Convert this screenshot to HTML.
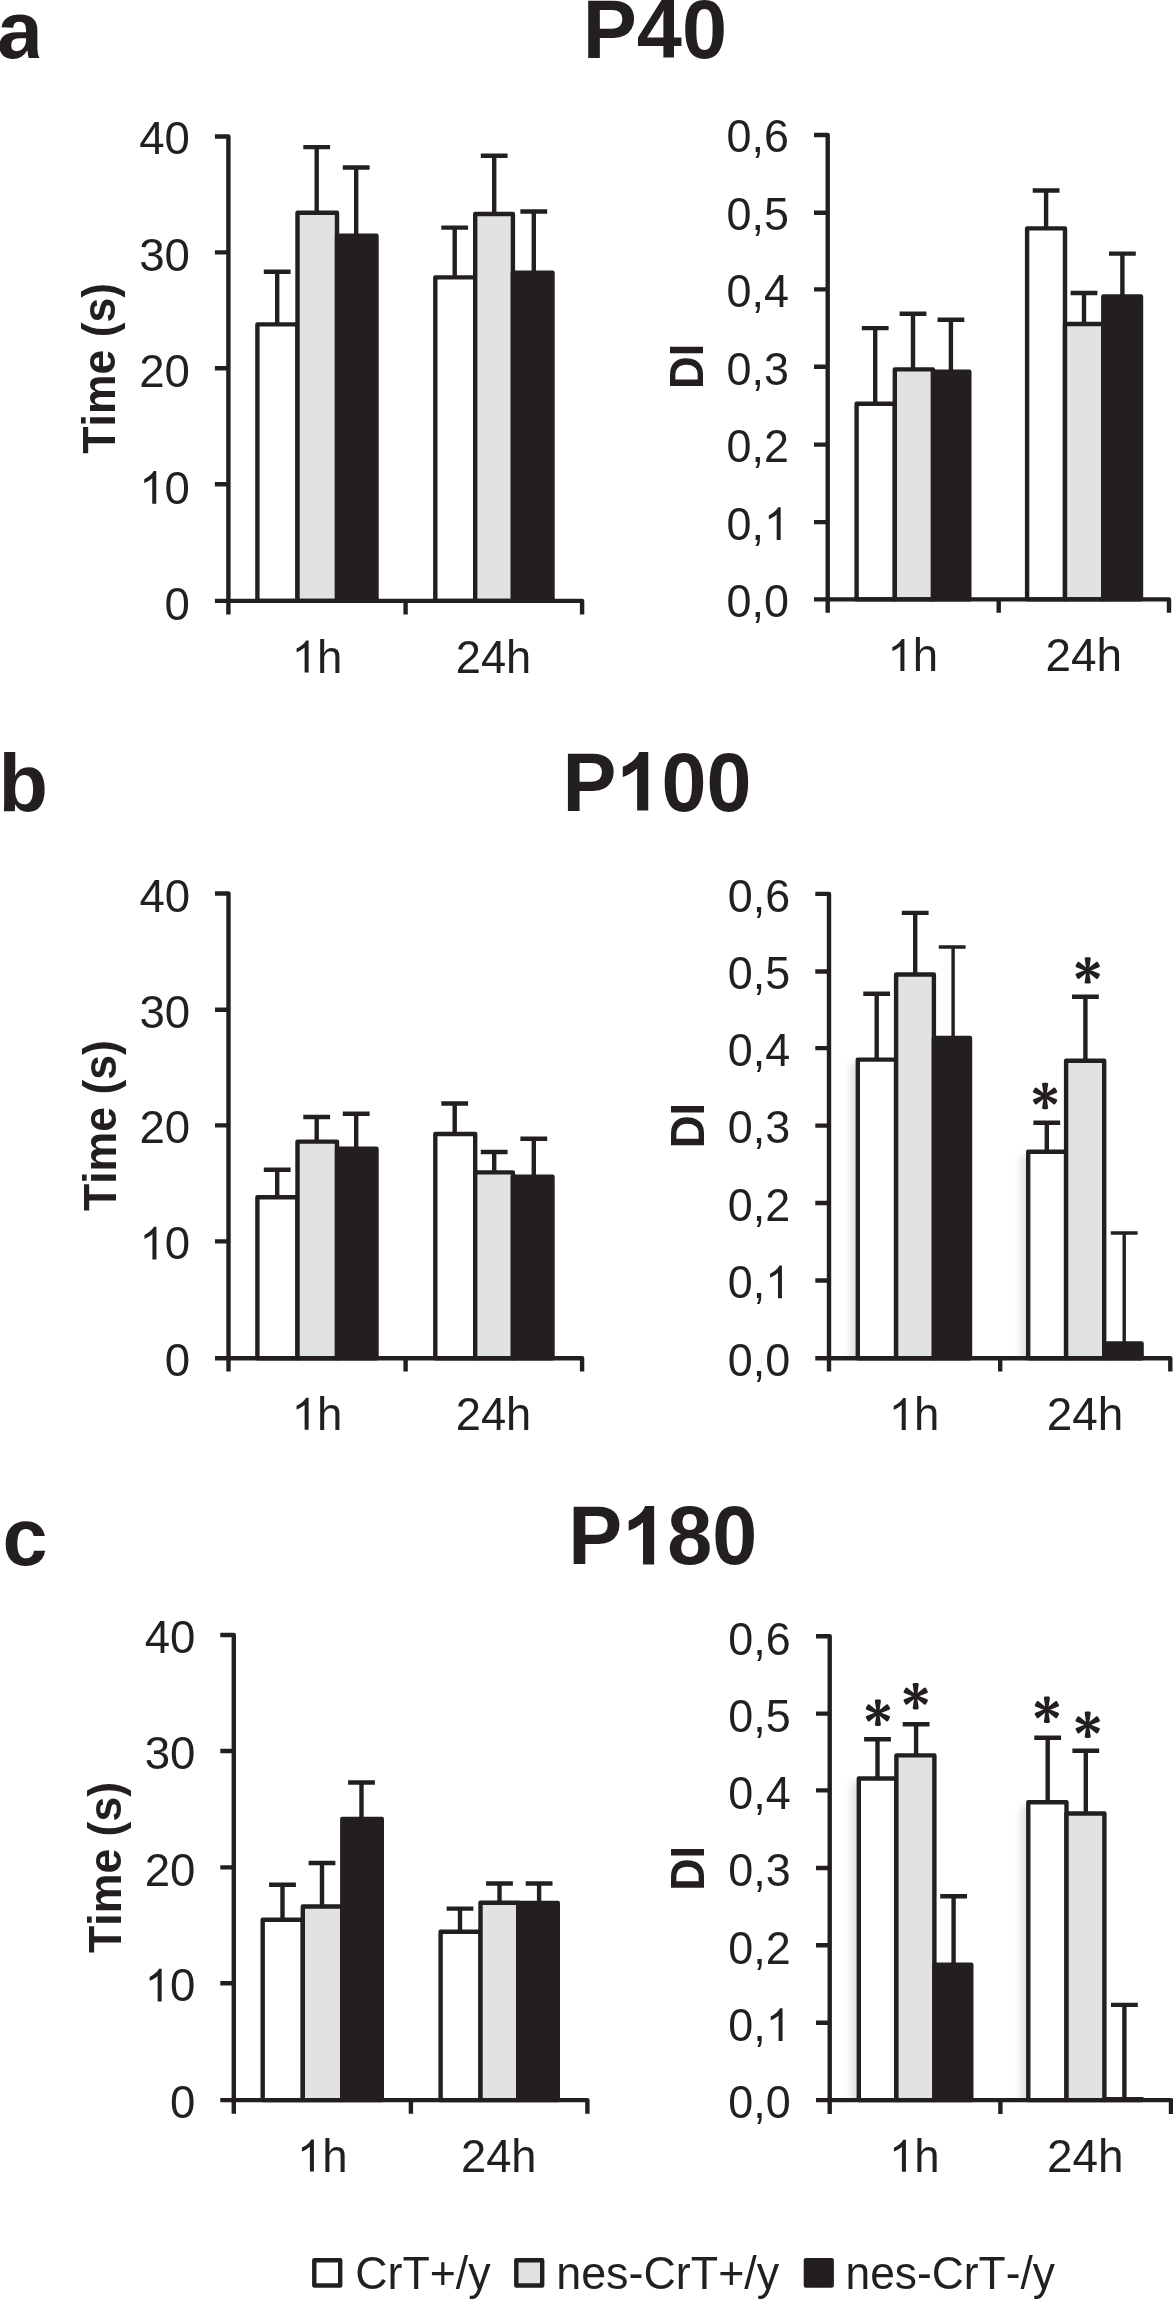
<!DOCTYPE html>
<html><head><meta charset="utf-8"><title>Figure</title>
<style>html,body{margin:0;padding:0;background:#fff}body{width:1173px;height:2300px;overflow:hidden}svg{display:block;will-change:transform;font-family:"Liberation Sans",sans-serif;font-kerning:none}</style>
</head><body>
<svg width="1173" height="2300" viewBox="0 0 1173 2300">
<defs><filter id="bl" x="-100%" y="-5%" width="300%" height="110%"><feGaussianBlur stdDeviation="3.5"/></filter><clipPath id="c1358"><rect x="0" y="0" width="1173" height="1358"/></clipPath><clipPath id="c2100"><rect x="0" y="0" width="1173" height="2100"/></clipPath><g id="ast"><path d="M-1.35 0L-3.00 -11.80Q-3.00 -13.20 -1.60 -13.20L1.60 -13.20Q3.00 -13.20 3.00 -11.80L1.35 0Z" transform="rotate(0)"/><path d="M-1.35 0L-3.00 -11.50Q-3.00 -12.90 -1.60 -12.90L1.60 -12.90Q3.00 -12.90 3.00 -11.50L1.35 0Z" transform="rotate(60)"/><path d="M-1.35 0L-3.00 -11.50Q-3.00 -12.90 -1.60 -12.90L1.60 -12.90Q3.00 -12.90 3.00 -11.50L1.35 0Z" transform="rotate(120)"/><path d="M-1.35 0L-3.00 -11.80Q-3.00 -13.20 -1.60 -13.20L1.60 -13.20Q3.00 -13.20 3.00 -11.80L1.35 0Z" transform="rotate(180)"/><path d="M-1.35 0L-3.00 -11.50Q-3.00 -12.90 -1.60 -12.90L1.60 -12.90Q3.00 -12.90 3.00 -11.50L1.35 0Z" transform="rotate(240)"/><path d="M-1.35 0L-3.00 -11.50Q-3.00 -12.90 -1.60 -12.90L1.60 -12.90Q3.00 -12.90 3.00 -11.50L1.35 0Z" transform="rotate(300)"/><circle r="2.2"/></g><path id="one" d="M763 0H583V1118.83Q518 1058.36 412.5 997.88Q307 937.4 223 907.16V1076.89Q374 1146.15 487 1244.67Q600 1343.19 647 1435.85H763Z"/><path id="oneb" d="M806 0H525V1032.99Q371 892.53 162 825.23V1073.96Q272 1109.08 401 1207.11Q530 1305.14 578 1435.85H806Z"/></defs>
<g stroke="#231f20" fill="none">
<rect x="257.4" y="324.4" width="40.1" height="276.5" fill="#fff" stroke-width="4.4" stroke-linejoin="round"/>
<rect x="297.5" y="212.7" width="39.5" height="388.2" fill="#e1e2e3" stroke-width="4.4" stroke-linejoin="round"/>
<rect x="337" y="235.8" width="39.5" height="365.1" fill="#231f20" stroke-width="4.4" stroke-linejoin="round"/>
<rect x="435.3" y="277.4" width="39.9" height="323.5" fill="#fff" stroke-width="4.4" stroke-linejoin="round"/>
<rect x="475.2" y="214" width="37.7" height="386.9" fill="#e1e2e3" stroke-width="4.4" stroke-linejoin="round"/>
<rect x="512.9" y="272.6" width="39.6" height="328.3" fill="#231f20" stroke-width="4.4" stroke-linejoin="round"/>
<path d="M277.2 324.4V271.7M263.8 271.7H290.6" stroke-width="4.4"/>
<path d="M316.7 212.7V147.1M303.3 147.1H330.1" stroke-width="4.4"/>
<path d="M356.2 235.8V167.5M342.8 167.5H369.6" stroke-width="4.4"/>
<path d="M454.7 277.4V227.6M441.3 227.6H468.1" stroke-width="4.4"/>
<path d="M494.2 214V155.8M480.8 155.8H507.6" stroke-width="4.4"/>
<path d="M533.8 272.6V211.5M520.4 211.5H547.2" stroke-width="4.4"/>
<path d="M214.9 136.5H228.4V614.4" stroke-width="4.4" stroke-linejoin="round"/>
<path d="M214.9 252.4H228.4M214.9 368.2H228.4M214.9 484.3H228.4M214.9 600.9H582.1V614.4M405.6 600.9V614.4" stroke-width="4.4" stroke-linejoin="round"/>
<rect x="856.6" y="403.7" width="38.2" height="195.7" fill="#fff" stroke-width="4.4" stroke-linejoin="round"/>
<rect x="894.8" y="369.4" width="38.2" height="230" fill="#e1e2e3" stroke-width="4.4" stroke-linejoin="round"/>
<rect x="933" y="371.8" width="36.3" height="227.6" fill="#231f20" stroke-width="4.4" stroke-linejoin="round"/>
<rect x="1027.1" y="228.4" width="37.9" height="371" fill="#fff" stroke-width="4.4" stroke-linejoin="round"/>
<rect x="1065" y="324" width="38.3" height="275.4" fill="#e1e2e3" stroke-width="4.4" stroke-linejoin="round"/>
<rect x="1103.3" y="296.4" width="37.7" height="303" fill="#231f20" stroke-width="4.4" stroke-linejoin="round"/>
<path d="M875.2 403.7V328.1M861.8 328.1H888.6" stroke-width="4.4"/>
<path d="M913 369.4V313.8M899.6 313.8H926.4" stroke-width="4.4"/>
<path d="M950.9 371.8V319.7M937.5 319.7H964.3" stroke-width="4.4"/>
<path d="M1046.1 228.4V190.5M1032.7 190.5H1059.5" stroke-width="4.4"/>
<path d="M1084 324V293M1070.6 293H1097.4" stroke-width="4.4"/>
<path d="M1122.4 296.4V253.6M1109 253.6H1135.8" stroke-width="4.4"/>
<path d="M814 135H827.7V612.8" stroke-width="4.4" stroke-linejoin="round"/>
<path d="M814 212.7H827.7M814 289.4H827.7M814 366.8H827.7M814 444.6H827.7M814 522.1H827.7M814 599.4H1169V612.8M998.7 599.4V612.8" stroke-width="4.4" stroke-linejoin="round"/>
<rect x="257.4" y="1197.3" width="40.1" height="160.9" fill="#fff" stroke-width="4.4" stroke-linejoin="round"/>
<rect x="297.5" y="1141.6" width="39.5" height="216.6" fill="#e1e2e3" stroke-width="4.4" stroke-linejoin="round"/>
<rect x="337" y="1148.7" width="39.5" height="209.5" fill="#231f20" stroke-width="4.4" stroke-linejoin="round"/>
<rect x="435.3" y="1134" width="39.9" height="224.2" fill="#fff" stroke-width="4.4" stroke-linejoin="round"/>
<rect x="475.2" y="1172.4" width="37.7" height="185.8" fill="#e1e2e3" stroke-width="4.4" stroke-linejoin="round"/>
<rect x="512.9" y="1176.8" width="39.6" height="181.4" fill="#231f20" stroke-width="4.4" stroke-linejoin="round"/>
<path d="M277.2 1197.3V1169.7M263.8 1169.7H290.6" stroke-width="4.4"/>
<path d="M316.7 1141.6V1117M303.3 1117H330.1" stroke-width="4.4"/>
<path d="M356.2 1148.7V1113.8M342.8 1113.8H369.6" stroke-width="4.4"/>
<path d="M454.7 1134V1103.5M441.3 1103.5H468.1" stroke-width="4.4"/>
<path d="M494.2 1172.4V1152M480.8 1152H507.6" stroke-width="4.4"/>
<path d="M533.8 1176.8V1138.7M520.4 1138.7H547.2" stroke-width="4.4"/>
<path d="M215 893.5H228.5V1371.6" stroke-width="4.4" stroke-linejoin="round"/>
<path d="M215 1009.8H228.5M215 1125.4H228.5M215 1241.4H228.5M215 1358.2H582.1V1371.6M405.6 1358.2V1371.6" stroke-width="4.4" stroke-linejoin="round"/>
<g clip-path="url(#c1358)"><rect x="851.1" y="1063.4" width="14" height="310.9" fill="#1c2026" fill-opacity="0.15" stroke="none" filter="url(#bl)"/></g>
<g clip-path="url(#c1358)"><rect x="1021.5" y="1155.5" width="14" height="218.8" fill="#1c2026" fill-opacity="0.15" stroke="none" filter="url(#bl)"/></g>
<rect x="857.8" y="1059.6" width="38.3" height="298.7" fill="#fff" stroke-width="4.4" stroke-linejoin="round"/>
<rect x="896.1" y="974.5" width="37.8" height="383.8" fill="#e1e2e3" stroke-width="4.4" stroke-linejoin="round"/>
<rect x="933.9" y="1038" width="36.1" height="320.3" fill="#231f20" stroke-width="4.4" stroke-linejoin="round"/>
<rect x="1028.2" y="1151.7" width="37.9" height="206.6" fill="#fff" stroke-width="4.4" stroke-linejoin="round"/>
<rect x="1066.1" y="1060.8" width="38.1" height="297.5" fill="#e1e2e3" stroke-width="4.4" stroke-linejoin="round"/>
<rect x="1104.2" y="1343.4" width="37.4" height="14.9" fill="#231f20" stroke-width="4.4" stroke-linejoin="round"/>
<path d="M876.7 1059.6V993.8M863.3 993.8H890.1" stroke-width="4.4"/>
<path d="M915.2 974.5V912.9M901.8 912.9H928.6" stroke-width="4.4"/>
<path d="M953.1 1038V947M938.8 947H965.6" stroke-width="3.4"/>
<path d="M1046.8 1151.7V1122.7M1033.4 1122.7H1060.2" stroke-width="4.4"/>
<path d="M1085.4 1060.8V996.7M1072 996.7H1098.8" stroke-width="4.4"/>
<path d="M1124.2 1343.4V1233M1110.8 1233H1137.6" stroke-width="3.4"/>
<path d="M815.3 893.9H829V1371.6" stroke-width="4.4" stroke-linejoin="round"/>
<path d="M815.3 971.5H829M815.3 1048.1H829M815.3 1125.6H829M815.3 1203H829M815.3 1280.5H829M815.3 1358.3H1170.3V1371.6M1000.2 1358.3V1371.6" stroke-width="4.4" stroke-linejoin="round"/>
<rect x="262.7" y="1919.8" width="40.1" height="180.3" fill="#fff" stroke-width="4.4" stroke-linejoin="round"/>
<rect x="302.8" y="1906.5" width="39.5" height="193.6" fill="#e1e2e3" stroke-width="4.4" stroke-linejoin="round"/>
<rect x="342.3" y="1819" width="39.5" height="281.1" fill="#231f20" stroke-width="4.4" stroke-linejoin="round"/>
<rect x="440.6" y="1931.8" width="39.9" height="168.3" fill="#fff" stroke-width="4.4" stroke-linejoin="round"/>
<rect x="480.5" y="1902.7" width="37.7" height="197.4" fill="#e1e2e3" stroke-width="4.4" stroke-linejoin="round"/>
<rect x="518.2" y="1902.9" width="39.6" height="197.2" fill="#231f20" stroke-width="4.4" stroke-linejoin="round"/>
<path d="M282.5 1919.8V1884.8M269.1 1884.8H295.9" stroke-width="4.4"/>
<path d="M322 1906.5V1863M308.6 1863H335.4" stroke-width="4.4"/>
<path d="M361.5 1819V1782.5M348.1 1782.5H374.9" stroke-width="4.4"/>
<path d="M460 1931.8V1908.6M446.6 1908.6H473.4" stroke-width="4.4"/>
<path d="M499.5 1902.7V1883.5M486.1 1883.5H512.9" stroke-width="4.4"/>
<path d="M539.1 1902.9V1883.5M525.7 1883.5H552.5" stroke-width="4.4"/>
<path d="M220.3 1635H233.8V2113.8" stroke-width="4.4" stroke-linejoin="round"/>
<path d="M220.3 1751H233.8M220.3 1867.4H233.8M220.3 1983.3H233.8M220.3 2100.1H587.4V2113.8M410.9 2100.1V2113.8" stroke-width="4.4" stroke-linejoin="round"/>
<g clip-path="url(#c2100)"><rect x="852.1" y="1782.3" width="14" height="333.8" fill="#1c2026" fill-opacity="0.15" stroke="none" filter="url(#bl)"/></g>
<g clip-path="url(#c2100)"><rect x="1021.6" y="1806" width="14" height="310.1" fill="#1c2026" fill-opacity="0.15" stroke="none" filter="url(#bl)"/></g>
<rect x="858.8" y="1778.5" width="37.6" height="321.6" fill="#fff" stroke-width="4.4" stroke-linejoin="round"/>
<rect x="896.4" y="1755.4" width="38" height="344.7" fill="#e1e2e3" stroke-width="4.4" stroke-linejoin="round"/>
<rect x="934.4" y="1964.8" width="36.9" height="135.3" fill="#231f20" stroke-width="4.4" stroke-linejoin="round"/>
<rect x="1028.3" y="1802.2" width="38.2" height="297.9" fill="#fff" stroke-width="4.4" stroke-linejoin="round"/>
<rect x="1066.5" y="1813.5" width="37.9" height="286.6" fill="#e1e2e3" stroke-width="4.4" stroke-linejoin="round"/>
<rect x="1104.4" y="2099.3" width="37.7" height="0.8" fill="#231f20" stroke-width="4.4" stroke-linejoin="round"/>
<path d="M877.5 1778.5V1739.2M864.1 1739.2H890.9" stroke-width="4.4"/>
<path d="M916.1 1755.4V1724.3M902.7 1724.3H929.5" stroke-width="4.4"/>
<path d="M953.6 1964.8V1896.2M940.2 1896.2H967" stroke-width="4.4"/>
<path d="M1047.7 1802.2V1737.7M1034.3 1737.7H1061.1" stroke-width="4.4"/>
<path d="M1085.8 1813.5V1750.8M1072.4 1750.8H1099.2" stroke-width="4.4"/>
<path d="M1124.4 2099.3V2004.9M1111 2004.9H1137.8" stroke-width="4.4"/>
<path d="M816 1636.3H829.7V2113.9" stroke-width="4.4" stroke-linejoin="round"/>
<path d="M816 1713.6H829.7M816 1790.4H829.7M816 1868H829.7M816 1945.3H829.7M816 2022.7H829.7M816 2100.1H1171V2113.9M1000.4 2100.1V2113.9" stroke-width="4.4" stroke-linejoin="round"/>
<rect x="314.3" y="2260.2" width="25.9" height="25.3" fill="#fff" stroke-width="4.4" stroke-linejoin="round"/>
<rect x="516.3" y="2260.2" width="25.9" height="25.3" fill="#e1e2e3" stroke-width="4.4" stroke-linejoin="round"/>
<rect x="805.9" y="2260.2" width="25.8" height="25.3" fill="#231f20" stroke-width="4.4" stroke-linejoin="round"/>
</g>
<g fill="#231f20">
<use href="#ast" x="1045.1" y="1096"/>
<use href="#ast" x="1087.7" y="970.4"/>
<use href="#ast" x="877.9" y="1712.8"/>
<use href="#ast" x="915.7" y="1696.2"/>
<use href="#ast" x="1046.9" y="1709.7"/>
<use href="#ast" x="1087.7" y="1724.8"/>
</g>
<g fill="#231f20">
<path transform="translate(-3 58.1) scale(0.04034 -0.03955)" d="M393 -20Q236 -20 148 65.5Q60 151 60 306Q60 474 169.5 562Q279 650 487 652L720 656V711Q720 817 683 868.5Q646 920 562 920Q484 920 447.5 884.5Q411 849 402 767L109 781Q136 939 253.5 1020.5Q371 1102 574 1102Q779 1102 890 1001Q1001 900 1001 714V230Q1003 90 1052 0H790Q762 70 755 193H749Q631 -20 393 -20ZM720 501 576 499Q478 495 437 477.5Q396 460 374.5 424Q353 388 353 328Q353 251 388.5 213.5Q424 176 483 176Q549 176 603.5 212Q658 248 689 311.5Q720 375 720 446Z"/>
<g transform="translate(-1.54 811)" font-size="81" font-weight="bold"><text>b</text></g>
<g transform="translate(2.44 1564.8)" font-size="81" font-weight="bold"><text>c</text></g>
<g transform="translate(582.77 58) scale(1.0016 1.0300)" font-size="81" font-weight="bold"><text>P40</text></g>
<g transform="translate(562.39 810.6) scale(0.9993 1.0300)" font-size="81" font-weight="bold"><text>P</text><use href="#oneb" transform="translate(54.03 0) scale(0.03955 -0.03955)"/><text x="99.07">00</text></g>
<g transform="translate(568.29 1564.4) scale(0.9993 1.0300)" font-size="81" font-weight="bold"><text>P</text><use href="#oneb" transform="translate(54.03 0) scale(0.03955 -0.03955)"/><text x="99.07">80</text></g>
<g transform="translate(139.26 154.2) scale(1.0000 1.0220)" font-size="45.6"><text>40</text></g>
<g transform="translate(139.26 270.7) scale(1.0000 1.0220)" font-size="45.6"><text>30</text></g>
<g transform="translate(139.26 387.2) scale(1.0000 1.0220)" font-size="45.6"><text>20</text></g>
<g transform="translate(139.26 503.7) scale(1.0000 1.0220)" font-size="45.6"><use href="#one" transform="translate(0 0) scale(0.02227 -0.02227)"/><text x="25.36">0</text></g>
<g transform="translate(164.62 620.2) scale(1.0000 1.0220)" font-size="45.6"><text>0</text></g>
<g transform="translate(139.46 911.5) scale(1.0000 1.0220)" font-size="45.6"><text>40</text></g>
<g transform="translate(139.46 1027.8) scale(1.0000 1.0220)" font-size="45.6"><text>30</text></g>
<g transform="translate(139.46 1143.4) scale(1.0000 1.0220)" font-size="45.6"><text>20</text></g>
<g transform="translate(139.46 1259.4) scale(1.0000 1.0220)" font-size="45.6"><use href="#one" transform="translate(0 0) scale(0.02227 -0.02227)"/><text x="25.36">0</text></g>
<g transform="translate(164.82 1376.2) scale(1.0000 1.0220)" font-size="45.6"><text>0</text></g>
<g transform="translate(144.66 1653.1) scale(1.0000 1.0220)" font-size="45.6"><text>40</text></g>
<g transform="translate(144.66 1769.1) scale(1.0000 1.0220)" font-size="45.6"><text>30</text></g>
<g transform="translate(144.66 1885.5) scale(1.0000 1.0220)" font-size="45.6"><text>20</text></g>
<g transform="translate(144.66 2001.4) scale(1.0000 1.0220)" font-size="45.6"><use href="#one" transform="translate(0 0) scale(0.02227 -0.02227)"/><text x="25.36">0</text></g>
<g transform="translate(170.02 2118.2) scale(1.0000 1.0220)" font-size="45.6"><text>0</text></g>
<g transform="translate(726.45 152.4) scale(0.9850 1.0220)" font-size="45.6"><text>0,6</text></g>
<g transform="translate(726.45 229.9) scale(0.9850 1.0220)" font-size="45.6"><text>0,5</text></g>
<g transform="translate(726.45 307.4) scale(0.9850 1.0220)" font-size="45.6"><text>0,4</text></g>
<g transform="translate(726.45 384.9) scale(0.9850 1.0220)" font-size="45.6"><text>0,3</text></g>
<g transform="translate(726.45 462.4) scale(0.9850 1.0220)" font-size="45.6"><text>0,2</text></g>
<g transform="translate(726.45 539.9) scale(0.9850 1.0220)" font-size="45.6"><text>0,</text><use href="#one" transform="translate(38.03 0) scale(0.02227 -0.02227)"/></g>
<g transform="translate(726.45 617.4) scale(0.9850 1.0220)" font-size="45.6"><text>0,0</text></g>
<g transform="translate(727.75 911.7) scale(0.9850 1.0220)" font-size="45.6"><text>0,6</text></g>
<g transform="translate(727.75 989.3) scale(0.9850 1.0220)" font-size="45.6"><text>0,5</text></g>
<g transform="translate(727.75 1065.9) scale(0.9850 1.0220)" font-size="45.6"><text>0,4</text></g>
<g transform="translate(727.75 1143.4) scale(0.9850 1.0220)" font-size="45.6"><text>0,3</text></g>
<g transform="translate(727.75 1220.8) scale(0.9850 1.0220)" font-size="45.6"><text>0,2</text></g>
<g transform="translate(727.75 1298.3) scale(0.9850 1.0220)" font-size="45.6"><text>0,</text><use href="#one" transform="translate(38.03 0) scale(0.02227 -0.02227)"/></g>
<g transform="translate(727.75 1376.1) scale(0.9850 1.0220)" font-size="45.6"><text>0,0</text></g>
<g transform="translate(728.35 1654.6) scale(0.9850 1.0220)" font-size="45.6"><text>0,6</text></g>
<g transform="translate(728.35 1731.9) scale(0.9850 1.0220)" font-size="45.6"><text>0,5</text></g>
<g transform="translate(728.35 1808.7) scale(0.9850 1.0220)" font-size="45.6"><text>0,4</text></g>
<g transform="translate(728.35 1886.3) scale(0.9850 1.0220)" font-size="45.6"><text>0,3</text></g>
<g transform="translate(728.35 1963.6) scale(0.9850 1.0220)" font-size="45.6"><text>0,2</text></g>
<g transform="translate(728.35 2041) scale(0.9850 1.0220)" font-size="45.6"><text>0,</text><use href="#one" transform="translate(38.03 0) scale(0.02227 -0.02227)"/></g>
<g transform="translate(728.35 2118.4) scale(0.9850 1.0220)" font-size="45.6"><text>0,0</text></g>
<g transform="translate(291.63 672.5)" font-size="45.6"><use href="#one" transform="translate(0 0) scale(0.02227 -0.02227)"/><text x="25.36">h</text></g>
<g transform="translate(455.72 672.5) scale(0.9926 1.0000)" font-size="45.6"><text>24h</text></g>
<g transform="translate(291.63 1429.8)" font-size="45.6"><use href="#one" transform="translate(0 0) scale(0.02227 -0.02227)"/><text x="25.36">h</text></g>
<g transform="translate(455.72 1429.8) scale(0.9926 1.0000)" font-size="45.6"><text>24h</text></g>
<g transform="translate(296.93 2171.6)" font-size="45.6"><use href="#one" transform="translate(0 0) scale(0.02227 -0.02227)"/><text x="25.36">h</text></g>
<g transform="translate(461.02 2171.6) scale(0.9926 1.0000)" font-size="45.6"><text>24h</text></g>
<g transform="translate(887.43 671.1)" font-size="45.6"><use href="#one" transform="translate(0 0) scale(0.02227 -0.02227)"/><text x="25.36">h</text></g>
<g transform="translate(1045.39 671.1) scale(1.0067 1.0000)" font-size="45.6"><text>24h</text></g>
<g transform="translate(888.73 1430)" font-size="45.6"><use href="#one" transform="translate(0 0) scale(0.02227 -0.02227)"/><text x="25.36">h</text></g>
<g transform="translate(1046.69 1430) scale(1.0067 1.0000)" font-size="45.6"><text>24h</text></g>
<g transform="translate(888.93 2171.8)" font-size="45.6"><use href="#one" transform="translate(0 0) scale(0.02227 -0.02227)"/><text x="25.36">h</text></g>
<g transform="translate(1046.89 2171.8) scale(1.0067 1.0000)" font-size="45.6"><text>24h</text></g>
<g transform="translate(115.2 453.7) rotate(-90) scale(0.9776 1.0250)" font-size="45.6" font-weight="bold"><text>Time (s)</text></g>
<g transform="translate(115.9 1211.1) rotate(-90) scale(0.9788 1.0250)" font-size="45.6" font-weight="bold"><text>Time (s)</text></g>
<g transform="translate(120.9 1952.9) rotate(-90) scale(0.9782 1.0250)" font-size="45.6" font-weight="bold"><text>Time (s)</text></g>
<g transform="translate(702.7 389.03) rotate(-90) scale(0.9924 1.0400)" font-size="45.6" font-weight="bold"><text>DI</text></g>
<g transform="translate(703.8 1148.35) rotate(-90) scale(1.0000 1.0400)" font-size="45.6" font-weight="bold"><text>DI</text></g>
<g transform="translate(704.4 1890.8) rotate(-90) scale(0.9848 1.0400)" font-size="45.6" font-weight="bold"><text>DI</text></g>
<g transform="translate(355.23 2289.4) scale(0.9804 1.0200)" font-size="45.6"><text>CrT+/y</text></g>
<g transform="translate(556.22 2289.4) scale(0.9836 1.0200)" font-size="45.6"><text>nes-CrT+/y</text></g>
<g transform="translate(845.55 2289.4) scale(0.9726 1.0200)" font-size="45.6"><text>nes-CrT-/y</text></g>
</g>
</svg>
</body></html>
